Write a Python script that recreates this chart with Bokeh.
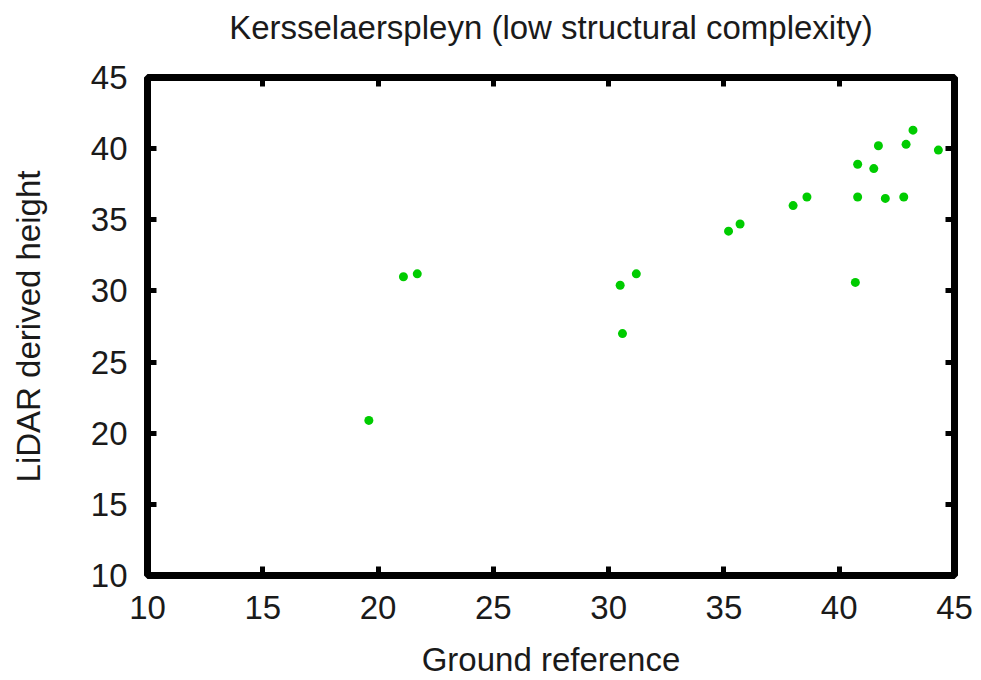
from bokeh.plotting import figure
from bokeh.models import Range1d, FixedTicker, LinearAxis, ColumnDataSource
from bokeh.embed import file_html
from bokeh.resources import INLINE

# Data
ground_reference = [19.6, 21.1, 21.7, 30.5, 30.6, 31.2, 35.2, 35.7, 38.0, 38.6,
                    40.8, 40.8, 40.7, 41.5, 41.7, 42.0, 42.8, 42.9, 43.2, 44.3]
lidar_height = [20.9, 31.0, 31.2, 30.4, 27.0, 31.2, 34.2, 34.7, 36.0, 36.6,
                38.9, 36.6, 30.6, 38.6, 40.2, 36.5, 36.6, 40.3, 41.3, 39.9]
x_ticks = [10, 15, 20, 25, 30, 35, 40, 45]
y_ticks = [10, 15, 20, 25, 30, 35, 40, 45]

title_text = "Kersselaerspleyn (low structural complexity)"
x_label = "Ground reference"
y_label = "LiDAR derived height"

FONT = "Liberation Sans"
FS = "33px"

source = ColumnDataSource(data=dict(x=ground_reference, y=lidar_height))

p = figure(width=981, height=680, output_backend="svg", toolbar_location=None,
           x_range=Range1d(10, 45), y_range=Range1d(10, 45),
           min_border_left=147, min_border_right=27,
           min_border_top=77, min_border_bottom=105)

p.background_fill_color = "white"
p.border_fill_color = "white"
p.grid.visible = False
p.outline_line_color = "black"
p.outline_line_width = 7

p.scatter("x", "y", source=source, size=9, fill_color="#00cc00",
          line_color=None, marker="circle")

# extra mirrored axes for inside ticks on top and right
right_axis = LinearAxis()
top_axis = LinearAxis()
p.add_layout(right_axis, "right")
p.add_layout(top_axis, "above")

for ax in p.xaxis:
    ax.ticker = FixedTicker(ticks=x_ticks)
for ax in p.yaxis:
    ax.ticker = FixedTicker(ticks=y_ticks)

for ax in p.xaxis + p.yaxis:
    ax.axis_line_color = None
    ax.major_tick_in = 9
    ax.major_tick_out = 0
    ax.major_tick_line_width = 5
    ax.major_tick_line_color = "black"
    ax.minor_tick_line_color = None
    ax.major_label_text_font = FONT
    ax.major_label_text_font_size = FS
    ax.major_label_text_color = "#1a1a1a"
    ax.axis_label_text_font = FONT
    ax.axis_label_text_font_size = FS
    ax.axis_label_text_font_style = "normal"
    ax.axis_label_text_color = "#1a1a1a"

for ax in (right_axis, top_axis):
    ax.major_label_text_font_size = "1px"
    ax.major_label_text_color = None
    ax.major_label_standoff = 0

# chart title carried by the top (mirror) axis
top_axis.axis_label = title_text
top_axis.axis_label_standoff = 32

bx = [a for a in p.xaxis if a is not top_axis][0]
ly = [a for a in p.yaxis if a is not right_axis][0]

bx.axis_label = x_label
bx.major_label_standoff = 20
bx.axis_label_standoff = 19
ly.axis_label = y_label
ly.major_label_standoff = 20
ly.axis_label_standoff = 41

open("out.html", "w").write(file_html(p, INLINE))
